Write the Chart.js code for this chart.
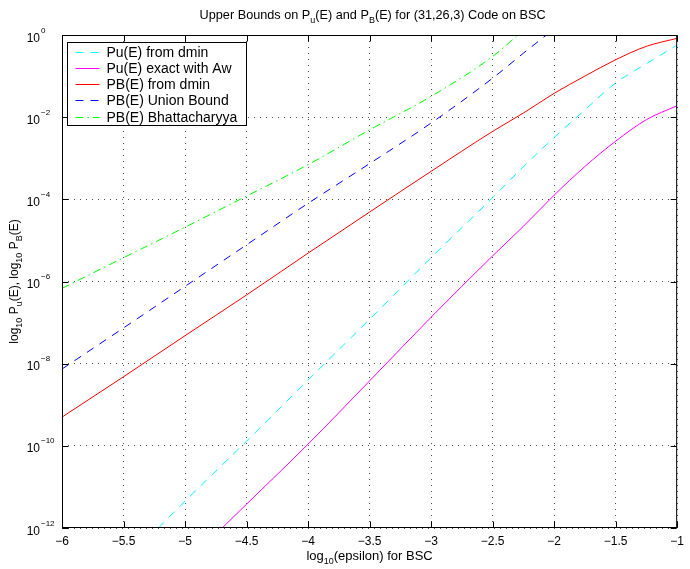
<!DOCTYPE html>
<html>
<head>
<meta charset="utf-8">
<title>Upper Bounds on Pu(E) and PB(E) for (31,26,3) Code on BSC</title>
<script src="https://cdn.jsdelivr.net/npm/chart.js@4.4.1/dist/chart.umd.min.js"></script>
<style>
  html, body { margin: 0; padding: 0; background: #fff; }
  canvas { display: block; }
</style>
</head>
<body>
<canvas id="boundsChart" width="690" height="569"></canvas>
<script>
// log10(epsilon) sample points on the x axis
const logEps = [-6, -5.5, -5, -4.5, -4, -3.5, -3, -2.5, -2.25, -2, -1.75, -1.5, -1.25, -1];

// bound values (probabilities) at each log10(epsilon)
const puDmin   = [5e-15, 1.4e-13, 4.5e-12, 1.3e-10, 4.0e-9, 1.2e-7, 3.8e-6, 1.1e-4, 6.2e-4, 3.2e-3, 1.5e-2, 6.8e-2, 0.20, 0.57];
const puExact  = [1.5e-16, 4e-15, 1.3e-13, 3.8e-12, 1.1e-10, 3.8e-9, 1.35e-7, 4.2e-6, 2.2e-5, 1.26e-4, 6.3e-4, 2.6e-3, 8.7e-3, 1.9e-2];
const pbDmin   = [5.0e-10, 4.8e-9, 4.8e-8, 4.7e-7, 4.9e-6, 4.9e-5, 4.8e-4, 4.5e-3, 1.26e-2, 3.8e-2, 0.10, 0.25, 0.53, 0.83];
const pbUnion  = [7.4e-9, 7.4e-8, 7.6e-7, 7.8e-6, 8.0e-5, 7.4e-4, 7.2e-3, 0.089, 0.36, 1.4, null, null, null, null];
const pbBhatta = [6.8e-7, 3.8e-6, 2.1e-5, 1.2e-4, 7.0e-4, 4.9e-3, 3.2e-2, 0.30, 1.3, null, null, null, null, null];

// tick positions
const xTicks = [-6, -5.5, -5, -4.5, -4, -3.5, -3, -2.5, -2, -1.5, -1];
const yExponents = [-12, -10, -8, -6, -4, -2, 0];

const FONT = '"Liberation Sans", Arial, Helvetica, sans-serif';
Chart.defaults.font.family = FONT;
Chart.defaults.font.size = 12;
Chart.defaults.color = '#000';

function series(label, values, color, dash) {
  return {
    label: label,
    data: logEps.map((x, i) => ({ x: x, y: values[i] })),
    borderColor: color,
    backgroundColor: color,
    borderWidth: 1,
    borderDash: dash,
    pointRadius: 0,
    fill: false,
    cubicInterpolationMode: 'monotone'
  };
}

const minus = v => (v < 0 ? '\u2212' : '') + Math.abs(v);

// text with sub/superscript pieces, centred on cx, baseline at by
function drawRich(ctx, parts, cx, by, size) {
  const small = Math.round(size * 0.72);
  let w = 0;
  parts.forEach(([t, k]) => {
    ctx.font = (k ? small : size) + 'px ' + FONT;
    w += ctx.measureText(t).width;
  });
  let x = cx - w / 2;
  ctx.textAlign = 'left';
  ctx.textBaseline = 'alphabetic';
  parts.forEach(([t, k]) => {
    ctx.font = (k ? small : size) + 'px ' + FONT;
    const dy = k === 'sub' ? size * 0.38 : (k === 'sup' ? -size * 0.45 : 0);
    ctx.fillText(t, x, by + dy);
    x += ctx.measureText(t).width;
  });
}

const decorations = {
  id: 'decorations',
  afterDatasetsDraw(chart) {
    const { ctx, chartArea: a, scales } = chart;
    const xs = scales.x, ys = scales.y;
    ctx.save();
    ctx.fillStyle = '#000';
    ctx.strokeStyle = '#000';
    ctx.lineWidth = 1;
    ctx.setLineDash([]);

    // axes box
    const L = a.left + 0.5, R = a.right - 0.5, T = a.top + 0.5, B = a.bottom - 0.5;
    ctx.strokeRect(L, T, R - L, B - T);

    // inward tick marks on all four sides
    const tl = 6;
    ctx.beginPath();
    xTicks.forEach(v => {
      const px = Math.round(xs.getPixelForValue(v)) + 0.5;
      ctx.moveTo(px, B); ctx.lineTo(px, B - tl);
      ctx.moveTo(px, T); ctx.lineTo(px, T + tl);
    });
    yExponents.forEach(e => {
      const py = Math.round(ys.getPixelForValue(Math.pow(10, e))) + 0.5;
      ctx.moveTo(L, py); ctx.lineTo(L + tl, py);
      ctx.moveTo(R, py); ctx.lineTo(R - tl, py);
    });
    ctx.stroke();

    // y tick labels 10^e
    yExponents.forEach(e => {
      const py = ys.getPixelForValue(Math.pow(10, e));
      ctx.textBaseline = 'alphabetic';
      ctx.textAlign = 'right';
      ctx.font = '12px ' + FONT;
      ctx.fillText('10', a.left - 22, py + 6.5);
      ctx.textAlign = 'left';
      ctx.font = '8px ' + FONT;
      ctx.fillText(minus(e), a.left - 21, py - 2.5);
    });

    const cx = (a.left + a.right) / 2;
    // title
    drawRich(ctx, [['Upper Bounds on P', ''], ['u', 'sub'], ['(E) and P', ''], ['B', 'sub'],
      ['(E) for (31,26,3) Code on BSC', '']], cx + 3, 18.5, 12.7);
    // x axis label
    drawRich(ctx, [['log', ''], ['10', 'sub'], ['(epsilon) for BSC', '']], cx, 559.5, 13);
    // y axis label
    ctx.save();
    ctx.translate(17.5, (a.top + a.bottom) / 2);
    ctx.rotate(-Math.PI / 2);
    drawRich(ctx, [['log', ''], ['10', 'sub'], [' P', ''], ['u', 'sub'], ['(E), log', ''], ['10', 'sub'],
      [' P', ''], ['B', 'sub'], ['(E)', '']], 0, 0, 12);
    ctx.restore();

    // legend box
    const bx = a.left + 5.5, by = a.top + 7.5, bw = 179, bh = 83;
    ctx.fillStyle = '#fff';
    ctx.fillRect(bx, by, bw, bh);
    ctx.strokeStyle = '#000';
    ctx.strokeRect(bx, by, bw, bh);
    chart.data.datasets.forEach((ds, i) => {
      const ly = Math.round(by + 9 + i * 16.3) + 0.5;
      ctx.strokeStyle = ds.borderColor;
      ctx.setLineDash(ds.borderDash || []);
      ctx.beginPath();
      ctx.moveTo(bx + 8, ly);
      ctx.lineTo(bx + 32, ly);
      ctx.stroke();
      ctx.setLineDash([]);
      ctx.fillStyle = '#000';
      ctx.font = '14px ' + FONT;
      ctx.textAlign = 'left';
      ctx.textBaseline = 'middle';
      ctx.fillText(ds.label, bx + 39, ly + 0.5);
    });
    ctx.restore();
  }
};

const gridColor = 'rgba(0,0,0,0.7)';

new Chart(document.getElementById('boundsChart'), {
  type: 'line',
  data: {
    datasets: [
      series('Pu(E) from dmin', puDmin, '#00ffff', [8, 7]),
      series('Pu(E) exact with Aw', puExact, '#ff00ff', []),
      series('PB(E) from dmin', pbDmin, '#ff0000', []),
      series('PB(E) Union Bound', pbUnion, '#0000ff', [8, 7]),
      series('PB(E) Bhattacharyya', pbBhatta, '#00ff00', [8, 4, 1.5, 4])
    ]
  },
  options: {
    responsive: false,
    animation: false,
    devicePixelRatio: 1,
    layout: { padding: { left: 0, right: 3, top: 35, bottom: 0 } },
    plugins: {
      legend: { display: false },
      title: { display: false },
      tooltip: { enabled: false }
    },
    scales: {
      x: {
        type: 'linear',
        min: -6,
        max: -1,
        afterBuildTicks: s => { s.ticks = xTicks.map(v => ({ value: v })); },
        afterFit: s => { s.height = 41; },
        ticks: {
          callback: v => minus(v),
          maxRotation: 0,
          autoSkip: false,
          padding: 6,
          font: { size: 12 }
        },
        grid: { color: gridColor, drawTicks: false, lineWidth: 1 },
        border: { display: false, dash: [1, 5] }
      },
      y: {
        type: 'logarithmic',
        min: 1e-12,
        max: 1,
        afterBuildTicks: s => { s.ticks = yExponents.map(e => ({ value: Math.pow(10, e) })); },
        afterFit: s => { s.width = 62; },
        ticks: { display: false },
        grid: { color: gridColor, drawTicks: false, lineWidth: 1 },
        border: { display: false, dash: [1, 5] }
      }
    }
  },
  plugins: [decorations]
});
</script>
</body>
</html>
